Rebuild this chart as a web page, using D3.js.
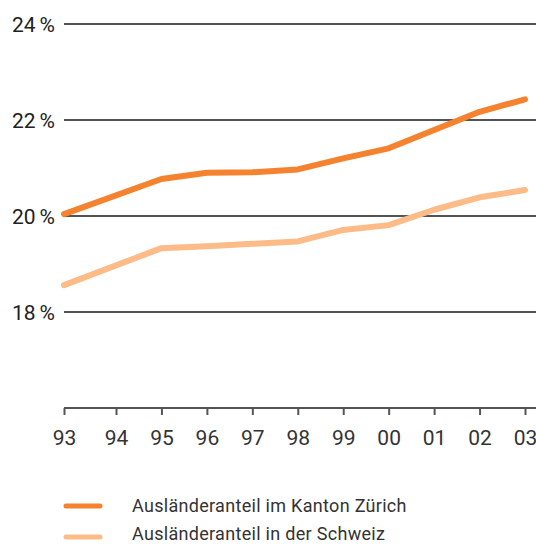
<!DOCTYPE html>
<html><head><meta charset="utf-8">
<script src="https://cdn.jsdelivr.net/npm/d3@7"></script>
<style>html,body{margin:0;padding:0;background:#fff;} svg{display:block;}</style>
</head><body>
<script>
const years = [1993, 1995, 1996, 1997, 1998, 1999, 2000, 2001, 2002, 2003];
const zurich = [20.04, 20.77, 20.90, 20.91, 20.97, 21.20, 21.41, 21.79, 22.17, 22.43];
const schweiz = [18.56, 19.33, 19.37, 19.42, 19.47, 19.71, 19.81, 20.13, 20.39, 20.54];
const tickYears = [1993,1994,1995,1996,1997,1998,1999,2000,2001,2002,2003];
const tickLabels = ["93","94","95","96","97","98","99","00","01","02","03"];
const yTicks = [18, 20, 22, 24];
const seriesNames = ["Ausländeranteil im Kanton Zürich", "Ausländeranteil in der Schweiz"];
const seriesColors = ["#F5822F", "#FDBB88"];

const W = 536, H = 545;
const svg = d3.select("body").append("svg").attr("width", W).attr("height", H);
const font = "Roboto, 'Liberation Sans', sans-serif";

const x = d3.scaleLinear().domain([1993, 1994, 2003]).range([64, 116, 525]);
const y = d3.scaleLinear().domain([16, 24]).range([408, 24]);

// gridlines
svg.append("g").selectAll("line").data(yTicks).join("line")
  .attr("x1", 64).attr("x2", W)
  .attr("y1", d => y(d)).attr("y2", d => y(d))
  .attr("stroke", "#1a1a1a").attr("stroke-width", 1.5);

const yl = svg.append("g").selectAll("text").data(yTicks).join("text")
  .attr("x", 55).attr("y", d => y(d) + 8)
  .attr("text-anchor", "end")
  .attr("font-family", font).attr("font-size", 21).attr("fill", "#222");
yl.append("tspan").text(d => d);
yl.append("tspan").attr("dx", 4).text("%");

// x axis
const xAxis = d3.axisBottom(x).tickValues(tickYears).tickSize(7)
  .tickFormat((d, i) => tickLabels[i]);
const gx = svg.append("g").attr("transform", `translate(0,${y(16)})`).call(xAxis);
gx.select(".domain").attr("d", `M64,0H${W}`).attr("stroke", "#555").attr("stroke-width", 2);
gx.selectAll(".tick line").attr("stroke", "#555").attr("stroke-width", 2);
gx.selectAll(".tick text").attr("font-family", font).attr("font-size", 21)
  .attr("fill", "#333").attr("dy", 0).attr("y", 37);

// lines
const line = d3.line().x(d => x(d[0])).y(d => y(d[1]));
[zurich, schweiz].forEach((vals, i) => {
  svg.append("path")
    .datum(years.map((yr, j) => [yr, vals[j]]))
    .attr("d", line)
    .attr("fill", "none")
    .attr("stroke", seriesColors[i])
    .attr("stroke-width", 6)
    .attr("stroke-linecap", "round")
    .attr("stroke-linejoin", "round");
});

// legend
const lg = svg.append("g");
seriesNames.forEach((name, i) => {
  const ly = 506 + i * 31;
  lg.append("line").attr("x1", 66).attr("x2", 100).attr("y1", ly).attr("y2", ly)
    .attr("stroke", seriesColors[i]).attr("stroke-width", 5).attr("stroke-linecap", "round");
  lg.append("text").attr("x", 132).attr("y", ly + 6 - i * 3)
    .attr("font-family", font).attr("font-size", 18).attr("letter-spacing", 0.3).attr("fill", "#333")
    .text(name);
});
</script>
</body></html>
